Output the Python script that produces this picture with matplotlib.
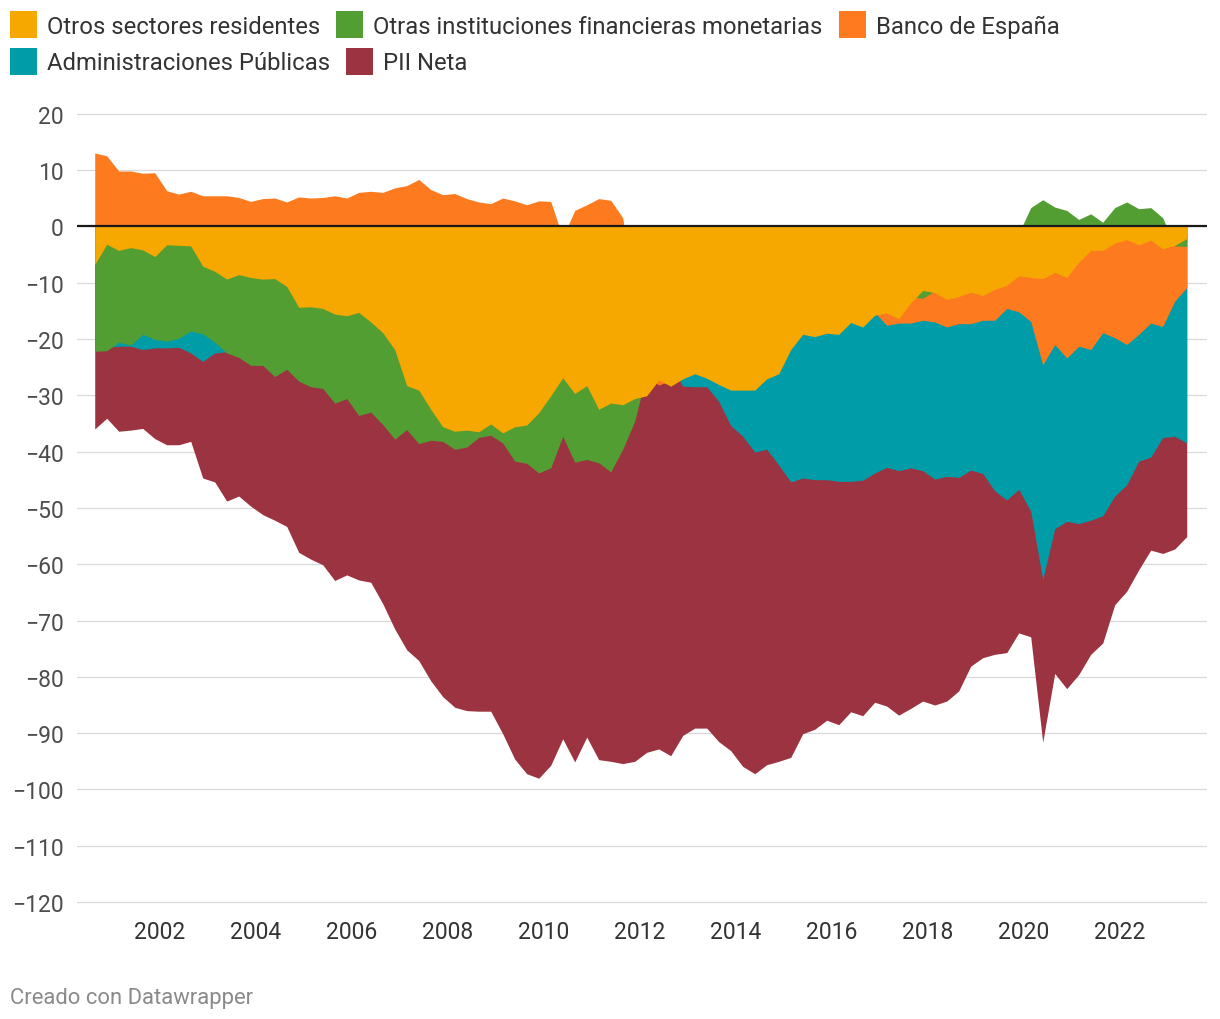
import numpy as np
import pandas as pd
import matplotlib
matplotlib.use("Agg")
import matplotlib.pyplot as plt
from matplotlib.patches import Rectangle

plt.rcParams["font.family"] = ["Roboto", "DejaVu Sans"]

# ----------------------------
# 1. Data: PII por sectores (% del PIB), trimestral 2000T3 - 2023T2
# ----------------------------

quarters = pd.period_range("2000Q3", "2023Q2", freq="Q")

otros_sectores = [
    -6.8, -3.2, -4.3, -3.8, -4.2, -5.4, -3.3, -3.4, -3.5, -7.1,
    -8.0, -9.4, -8.6, -9.1, -9.4, -9.3, -10.7, -14.4, -14.3, -14.6,
    -15.6, -15.9, -15.3, -17.0, -18.9, -21.9, -28.3, -29.1, -32.5, -35.6,
    -36.4, -36.2, -36.5, -35.1, -36.7, -35.6, -35.3, -33.1, -30.1, -26.9,
    -29.7, -28.3, -32.5, -31.4, -31.7, -30.6, -30.1, -27.3, -28.4, -27.1,
    -26.2, -27.0, -28.1, -29.1, -29.1, -29.1, -27.1, -26.2, -21.9, -19.2,
    -19.6, -19.0, -19.2, -17.1, -17.9, -15.8, -15.4, -16.4, -13.6, -11.4,
    -11.8, -13.0, -12.5, -11.7, -12.3, -11.2, -10.5, -8.8, -9.1, -9.3,
    -8.2, -9.1, -6.4, -4.3, -4.3, -3.0, -2.4, -3.3, -2.5, -4.0,
    -3.4, -2.2,
]

otras_ifm = [
    -22.2, -22.1, -20.6, -21.1, -19.2, -20.1, -20.4, -19.9, -18.6, -19.1,
    -20.6, -22.5, -23.3, -24.7, -24.7, -26.7, -25.4, -27.5, -28.5, -28.8,
    -31.4, -30.6, -33.6, -33.0, -35.2, -37.8, -36.1, -38.6, -38.0, -38.2,
    -39.6, -39.2, -37.5, -37.1, -38.5, -41.7, -42.1, -43.8, -42.9, -37.3,
    -41.9, -41.4, -42.0, -43.6, -39.6, -34.6, -26.0, -24.0, -22.0, -20.0,
    -18.0, -17.0, -16.0, -15.0, -15.0, -15.0, -15.0, -15.0, -15.0, -15.0,
    -15.0, -15.0, -15.0, -14.0, -14.0, -13.5, -13.0, -13.0, -12.5, -12.8,
    -11.5, -10.5, -10.0, -9.0, -8.0, -7.0, -5.0, -1.3, 3.3, 4.7,
    3.4, 2.8, 1.2, 2.2, 0.7, 3.3, 4.3, 3.1, 3.3, 1.5,
    -3.5, -3.6,
]

banco_espana = [
    13.0, 12.5, 9.8, 9.8, 9.4, 9.5, 6.3, 5.7, 6.2, 5.4,
    5.4, 5.4, 5.1, 4.4, 4.9, 5.0, 4.3, 5.2, 5.0, 5.1,
    5.4, 5.0, 6.0, 6.2, 6.0, 6.8, 7.2, 8.3, 6.5, 5.6,
    5.8, 4.9, 4.3, 4.0, 5.0, 4.5, 3.8, 4.5, 4.4, -2.0,
    2.8, 3.8, 4.9, 4.6, 1.5, -13.0, -26.5, -28.2, -27.4, -25.0,
    -24.0, -24.0, -25.0, -26.0, -26.0, -26.0, -25.0, -24.0, -20.0, -18.0,
    -18.0, -18.0, -18.0, -16.5, -17.0, -15.3, -17.6, -17.2, -17.2, -16.7,
    -17.0, -17.9, -17.3, -17.3, -16.7, -16.7, -14.6, -15.2, -16.9, -24.6,
    -21.0, -23.4, -21.3, -21.9, -18.9, -19.8, -21.0, -19.2, -17.2, -17.8,
    -13.3, -10.9,
]

admin_publicas = [
    -22.0, -21.5, -21.3, -21.3, -21.9, -21.6, -21.6, -21.5, -22.5, -24.0,
    -22.5, -22.3, -22.5, -22.5, -22.0, -22.0, -21.5, -21.5, -21.0, -21.0,
    -20.5, -20.0, -20.0, -19.5, -19.5, -19.0, -19.0, -19.0, -19.0, -19.5,
    -20.0, -20.5, -21.0, -22.0, -23.0, -24.0, -25.0, -26.0, -26.0, -27.0,
    -27.0, -27.0, -27.0, -27.0, -27.5, -28.0, -25.0, -25.0, -24.5, -28.4,
    -28.5, -28.5, -31.1, -35.4, -37.3, -40.1, -39.6, -42.4, -45.4, -44.7,
    -45.0, -45.0, -45.3, -45.3, -45.1, -43.8, -42.8, -43.4, -42.9, -43.4,
    -44.9, -44.4, -44.6, -43.3, -43.9, -47.0, -48.6, -46.7, -50.6, -62.7,
    -53.7, -52.4, -52.8, -52.2, -51.4, -47.9, -45.9, -41.7, -41.0, -37.5,
    -37.3, -38.5,
]

pii_neta = [
    -36.0, -34.1, -36.4, -36.2, -35.9, -37.7, -38.8, -38.8, -38.2, -44.7,
    -45.4, -48.8, -47.9, -49.7, -51.2, -52.2, -53.3, -57.9, -59.1, -60.1,
    -62.9, -61.9, -62.8, -63.2, -67.0, -71.5, -75.2, -77.1, -80.7, -83.5,
    -85.4, -86.0, -86.1, -86.1, -90.1, -94.6, -97.2, -98.0, -95.7, -91.0,
    -95.1, -90.7, -94.7, -95.0, -95.4, -95.0, -93.4, -92.8, -94.0, -90.4,
    -89.1, -89.1, -91.5, -93.1, -95.9, -97.2, -95.6, -95.0, -94.3, -90.1,
    -89.3, -87.7, -88.5, -86.2, -86.9, -84.5, -85.2, -86.8, -85.6, -84.3,
    -85.0, -84.3, -82.5, -78.1, -76.6, -76.0, -75.7, -72.2, -72.9, -91.6,
    -79.4, -82.1, -79.6, -76.0, -74.0, -67.2, -64.8, -61.0, -57.5, -58.1,
    -57.3, -55.1,
]

# legend order = drawing order from top to bottom
series = [
    ("Otros sectores residentes", otros_sectores, "#f6a700"),
    ("Otras instituciones financieras monetarias", otras_ifm, "#529e32"),
    ("Banco de España", banco_espana, "#fd7a1e"),
    ("Administraciones Públicas", admin_publicas, "#009ca7"),
    ("PII Neta", pii_neta, "#9c3341"),
]

x = quarters.year.values + (quarters.quarter.values - 1) / 4 + 0.14

# ----------------------------
# 2. Figure layout (pixels -> figure fractions)
# ----------------------------

W, H = 1220, 1020
ZERO_PX, PX_PER_UNIT = 227.2, 5.633
YMIN, YMAX = -121, 21
X_LEFT_PX, X_RIGHT_PX = 77, 1207

def year_at(px):
    return 2000 + (px - 64) / 48.0

y_top_px = ZERO_PX - YMAX * PX_PER_UNIT
y_bot_px = ZERO_PX - YMIN * PX_PER_UNIT

fig = plt.figure(figsize=(W / 100, H / 100), dpi=100)
ax = fig.add_axes([
    X_LEFT_PX / W,
    1 - y_bot_px / H,
    (X_RIGHT_PX - X_LEFT_PX) / W,
    (y_bot_px - y_top_px) / H,
])

# ----------------------------
# 3. Overlapping areas
# ----------------------------

for k, (label, vals, color) in enumerate(series):
    ax.fill_between(x, 0, np.array(vals), color=color, lw=0,
                    zorder=10 - k)

ax.axhline(0, color="#1a1a1a", lw=1.6, zorder=20)

ax.set_xlim(year_at(X_LEFT_PX), year_at(X_RIGHT_PX))
ax.set_ylim(YMIN, YMAX)

yticks = np.arange(-120, 21, 10)
ax.set_yticks(yticks)
ax.set_yticklabels([str(v).replace("-", "\u2212") for v in yticks])
ax.yaxis.grid(True, color="#d9d9d9", lw=0.9)
ax.set_axisbelow(True)

xticks = np.arange(2002, 2023, 2)
ax.set_xticks(xticks)
ax.set_xticklabels([str(v) for v in xticks])

for s in ax.spines.values():
    s.set_visible(False)
ax.tick_params(axis="y", length=0, pad=9.5, labelsize=16.5,
               labelcolor="#4d4d4d")
ax.tick_params(axis="x", length=0, pad=8.5, labelsize=16.5,
               labelcolor="#333333")

# ----------------------------
# 4. Legend (flowing, two rows) and footer
# ----------------------------

renderer = fig.canvas.get_renderer()
rows = [(series[:3], 12, 34.3), (series[3:], 48.5, 70.0)]
for items, sq_top, baseline in rows:
    cursor = 10
    for label, _, color in items:
        fig.add_artist(Rectangle((cursor / W, 1 - (sq_top + 27) / H),
                                 27 / W, 27 / H, color=color,
                                 transform=fig.transFigure, lw=0))
        t = fig.text((cursor + 37) / W, 1 - baseline / H, label,
                     fontsize=17.2, color="#333333", va="baseline",
                     ha="left")
        bb = t.get_window_extent(renderer)
        cursor = bb.x1 + 16

fig.text(10 / W, 1 - 1004 / H, "Creado con Datawrapper", fontsize=15.8,
         color="#8a8a8a", va="baseline", ha="left")

fig.savefig("out.png", dpi=100)
